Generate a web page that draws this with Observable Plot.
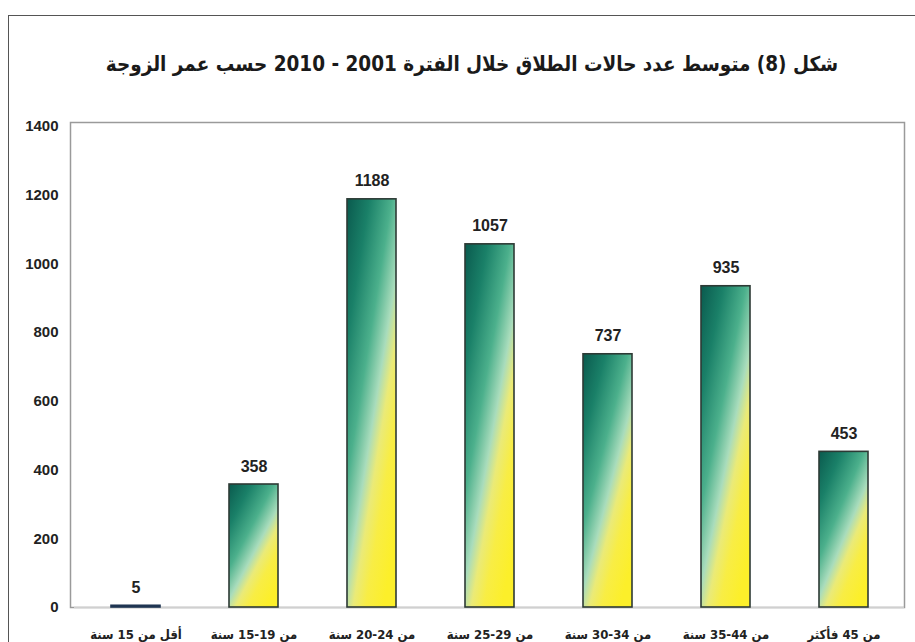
<!DOCTYPE html>
<html>
<head>
<meta charset="utf-8">
<script src="https://cdn.jsdelivr.net/npm/d3@7"></script>
<script src="https://cdn.jsdelivr.net/npm/@observablehq/plot@0.6"></script>
<style>
  html, body { margin: 0; padding: 0; background: #fff; overflow: hidden; }
  #wrap { position: relative; width: 915px; height: 642px; overflow: hidden; }
  #border { position: absolute; left: 8px; top: 15px; width: 1000px; height: 1000px; border: 1.5px solid #555; box-sizing: border-box; }
  #title { position: absolute; left: 0; width: 944px; top: 52px; text-align: center; font-family: "DejaVu Sans Condensed", "DejaVu Sans", sans-serif; font-weight: bold; font-size: 20.5px; color: #1a1a1a; direction: rtl; }
  #chart { position: absolute; left: 0; top: 0; }
</style>
</head>
<body>
<div id="wrap">
  <div id="border"></div>
  <div id="title">شكل (8) متوسط عدد حالات الطلاق خلال الفترة 2001 - 2010 حسب عمر الزوجة</div>
  <div id="chart"></div>
</div>
<script>
const categories = ["أقل من 15 سنة", "من 19-15 سنة", "من 24-20 سنة", "من 29-25 سنة", "من 34-30 سنة", "من 44-35 سنة", "من 45 فأكثر"];
const values = [5, 358, 1188, 1057, 737, 935, 453];
const yTicks = [0, 200, 400, 600, 800, 1000, 1200, 1400];

const data = categories.map((c, i) => ({category: c, value: values[i], first: i === 0}));

const gradientDefs = () => {
  const defs = d3.create("svg:defs");
  const g = defs.append("linearGradient").attr("id", "barGrad")
    .attr("x1", 0).attr("y1", 0).attr("x2", 0.75).attr("y2", 1);
  [[0, "#0a5a4e"], [0.22, "#1a8068"], [0.44, "#4cb08c"], [0.6, "#a9dcbc"], [0.7, "#eaea78"], [0.82, "#f8ed45"], [1, "#fcef2a"]]
    .forEach(([o, c]) => g.append("stop").attr("offset", o).attr("stop-color", c));
  return defs.node();
};

const chart = Plot.plot({
  width: 915,
  height: 642,
  marginTop: 126,
  marginBottom: 35,
  marginLeft: 74,
  marginRight: 11,
  style: {fontFamily: "'Liberation Sans Narrow', 'Liberation Sans', Arial, sans-serif", background: "transparent", color: "#222"},
  x: {domain: categories, paddingInner: 0.585, paddingOuter: 0.29, label: null},
  y: {domain: [0, 1400], label: null},
  marks: [
    gradientDefs,
    Plot.frame({stroke: "#9a9a9a", strokeWidth: 1.5, insetLeft: -4, insetTop: -4}),
    Plot.ruleY([0], {stroke: "#d0d0d0", strokeWidth: 1.5}),
    Plot.barY(data, {
      x: "category", y: "value",
      fill: d => d.first ? "#1f3552" : "url(#barGrad)",
      stroke: d => d.first ? "#1f3552" : "#2d3a35",
      strokeWidth: 1.6
    }),
    Plot.text(data, {x: "category", y: "value", text: d => String(d.value), dy: -18, fontSize: 16, fontWeight: "bold", fill: "#222"}),
    Plot.axisY({ticks: yTicks, tickSize: 0, tickPadding: 16, fontSize: 15, fontWeight: "bold", tickFormat: d => String(d)}),
    Plot.axisX({tickSize: 0, tickPadding: 22, fontSize: 13, fontWeight: "bold", fontFamily: "'DejaVu Sans Condensed', 'DejaVu Sans', sans-serif"})
  ]
});
document.getElementById("chart").appendChild(chart);
</script>
</body>
</html>
